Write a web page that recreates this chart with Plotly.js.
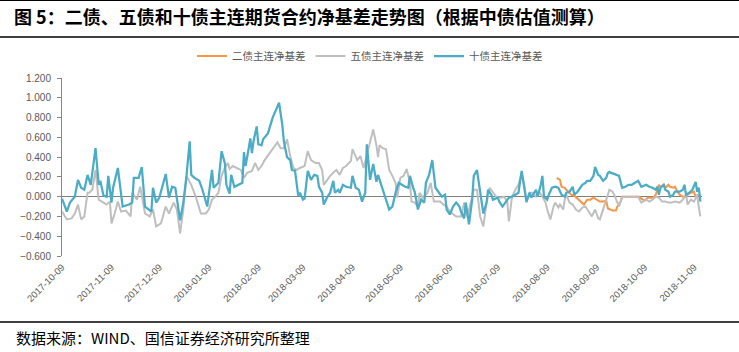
<!DOCTYPE html>
<html>
<head>
<meta charset="utf-8">
<script src="https://cdn.plot.ly/plotly-3.0.1.min.js"></script>
<style>html,body{margin:0;padding:0;background:#fff;}#chart{width:739px;height:352px;}</style>
</head>
<body>
<div id="chart"></div>
<script>
var titleText = '图 5：二债、五债和十债主连期货合约净基差走势图（根据中债估值测算）';
var sourceText = '数据来源：WIND、国信证券经济研究所整理';
var seriesNames = ['二债主连净基差', '五债主连净基差', '十债主连净基差'];

var tickDates = ['2017-10-09','2017-11-09','2017-12-09','2018-01-09','2018-02-09','2018-03-09','2018-04-09','2018-05-09','2018-06-09','2018-07-09','2018-08-09','2018-09-09','2018-10-09','2018-11-09'];
var tickLabels = ['2017-10-09','2017-11-09','2017-12-09','2018-01-09','2018-02-09','2018-03-09','2018-04-09','2018-05-09','2018-06-09','2018-07-09','2018-08-09','2018-09-09','2018-10-09','2018-11-09'];
var yTicks = [-0.6,-0.4,-0.2,0,0.2,0.4,0.6,0.8,1.0,1.2];

// 二债主连净基差
var dates2 = ['2018-08-15','2018-08-17','2018-08-18','2018-08-20','2018-08-21','2018-08-23','2018-08-24','2018-08-26','2018-08-28','2018-08-30',
'2018-09-01','2018-09-03','2018-09-05','2018-09-07','2018-09-09','2018-09-11','2018-09-13','2018-09-15','2018-09-16','2018-09-19',
'2018-09-21','2018-09-22','2018-09-24','2018-09-25','2018-09-28','2018-10-02','2018-10-06','2018-10-07','2018-10-09','2018-10-11',
'2018-10-14','2018-10-15','2018-10-16','2018-10-18','2018-10-19','2018-10-21','2018-10-22','2018-10-24','2018-10-25','2018-10-27',
'2018-10-28','2018-10-29','2018-10-31','2018-11-02','2018-11-03','2018-11-05','2018-11-07','2018-11-09','2018-11-10','2018-11-12'];
var values2 = [0.19,0.17,0.10,0.09,0.07,0.04,0.02,0.01,-0.02,-0.06,
-0.08,-0.03,-0.03,-0.01,-0.03,-0.05,-0.05,-0.04,-0.12,-0.14,
-0.14,-0.10,-0.05,0.00,0.00,0.00,0.00,-0.02,-0.04,-0.01,
-0.01,0.00,0.02,0.12,0.10,0.12,0.09,0.12,0.10,0.09,
0.10,0.07,0.02,0.00,0.00,0.02,0.04,0.05,0.00,0.02];

// 五债主连净基差
var dates5 = ['2017-10-09','2017-10-12','2017-10-15','2017-10-17','2017-10-19','2017-10-21','2017-10-23','2017-10-25','2017-10-26','2017-10-28',
'2017-10-30','2017-11-01','2017-11-04','2017-11-06','2017-11-08','2017-11-09','2017-11-11','2017-11-13','2017-11-15','2017-11-18',
'2017-11-21','2017-11-22','2017-11-25','2017-11-27','2017-11-30','2017-12-03','2017-12-05','2017-12-07','2017-12-10','2017-12-13',
'2017-12-15','2017-12-18','2017-12-20','2017-12-22','2017-12-24','2017-12-26','2017-12-29','2018-01-01','2018-01-04','2018-01-07',
'2018-01-09','2018-01-11','2018-01-13','2018-01-15','2018-01-17','2018-01-19','2018-01-21','2018-01-22','2018-01-24','2018-01-27',
'2018-01-29','2018-01-31','2018-02-02','2018-02-05','2018-02-07','2018-02-09','2018-02-11','2018-02-13','2018-02-15','2018-02-17',
'2018-02-21','2018-02-23','2018-02-25','2018-02-27','2018-03-01','2018-03-03','2018-03-05','2018-03-07','2018-03-10','2018-03-12',
'2018-03-14','2018-03-17','2018-03-19','2018-03-21','2018-03-22','2018-03-24','2018-03-26','2018-03-29','2018-03-30','2018-04-01',
'2018-04-03','2018-04-05','2018-04-08','2018-04-09','2018-04-12','2018-04-14','2018-04-16','2018-04-18','2018-04-20','2018-04-22',
'2018-04-24','2018-04-25','2018-04-26','2018-04-28','2018-04-30','2018-05-02','2018-05-04','2018-05-06','2018-05-07','2018-05-09',
'2018-05-11','2018-05-13','2018-05-15','2018-05-16','2018-05-18','2018-05-20','2018-05-21','2018-05-23','2018-05-26','2018-05-28',
'2018-05-30','2018-06-01','2018-06-03','2018-06-05','2018-06-07','2018-06-09','2018-06-11','2018-06-13','2018-06-16','2018-06-18',
'2018-06-20','2018-06-22','2018-06-24','2018-06-26','2018-06-28','2018-06-30','2018-07-02','2018-07-04','2018-07-06','2018-07-08',
'2018-07-11','2018-07-13','2018-07-15','2018-07-16','2018-07-18','2018-07-20','2018-07-22','2018-07-24','2018-07-26','2018-07-27',
'2018-07-29','2018-07-31','2018-08-02','2018-08-04','2018-08-06','2018-08-08','2018-08-09','2018-08-11','2018-08-13','2018-08-14',
'2018-08-16','2018-08-17','2018-08-19','2018-08-20','2018-08-21','2018-08-23','2018-08-25','2018-08-27','2018-08-29','2018-08-31',
'2018-09-02','2018-09-04','2018-09-06','2018-09-08','2018-09-10','2018-09-11','2018-09-13','2018-09-15','2018-09-17','2018-09-19',
'2018-09-20','2018-09-22','2018-09-23','2018-09-25','2018-09-27','2018-09-30','2018-10-03','2018-10-05','2018-10-07','2018-10-10',
'2018-10-12','2018-10-14','2018-10-16','2018-10-18','2018-10-20','2018-10-22','2018-10-24','2018-10-26','2018-10-28','2018-10-31',
'2018-11-02','2018-11-04','2018-11-05','2018-11-07','2018-11-09','2018-11-11','2018-11-12','2018-11-13'];
var values5 = [-0.15,-0.23,-0.22,-0.17,-0.08,-0.23,-0.20,0.04,0.04,0.07,
0.27,-0.03,-0.06,-0.08,-0.05,-0.27,-0.17,-0.05,-0.15,-0.14,
-0.20,0.04,-0.03,0.10,-0.17,-0.20,-0.13,-0.30,-0.27,-0.10,
-0.17,-0.06,-0.13,-0.37,-0.13,0.21,0.12,-0.01,-0.17,-0.17,
-0.13,-0.03,0.00,0.04,0.21,0.29,0.34,0.28,0.31,0.29,
0.27,0.19,0.24,0.26,0.34,0.27,0.31,0.37,0.41,0.46,
0.55,0.49,0.49,0.58,0.41,0.29,0.27,0.29,0.31,0.46,
0.37,0.34,0.34,0.27,0.12,0.17,0.21,0.26,0.27,0.22,
0.29,0.31,0.36,0.48,0.37,0.41,0.29,0.42,0.55,0.68,
0.52,0.40,0.52,0.49,0.48,0.27,0.21,0.14,-0.01,0.19,
0.21,0.28,0.14,-0.05,-0.06,-0.10,0.04,-0.01,0.04,0.14,
-0.05,-0.05,-0.05,-0.08,-0.10,-0.15,-0.18,-0.20,-0.20,-0.06,
-0.20,-0.05,0.07,0.07,-0.20,-0.30,-0.06,0.09,0.04,0.00,
-0.01,0.00,-0.05,-0.25,0.00,0.07,0.12,0.24,0.09,-0.06,
0.04,0.04,0.00,0.05,0.00,-0.06,-0.13,-0.23,-0.10,-0.06,
-0.11,-0.08,-0.13,-0.03,0.02,-0.06,-0.08,-0.13,-0.15,-0.11,
-0.10,-0.15,-0.20,-0.13,-0.22,-0.23,-0.13,-0.03,0.07,0.05,
0.02,-0.06,-0.10,0.00,0.00,0.00,0.00,0.00,-0.06,-0.03,
-0.05,-0.03,0.00,-0.01,-0.05,-0.05,-0.06,-0.06,-0.05,-0.06,
-0.03,0.02,-0.08,-0.03,-0.05,0.02,-0.11,-0.20];

// 十债主连净基差
var dates10 = ['2017-10-09','2017-10-12','2017-10-14','2017-10-17','2017-10-19','2017-10-21','2017-10-23','2017-10-25','2017-10-27','2017-10-30',
'2017-11-01','2017-11-02','2017-11-04','2017-11-06','2017-11-07','2017-11-09','2017-11-10','2017-11-13','2017-11-16','2017-11-20',
'2017-11-22','2017-11-23','2017-11-26','2017-11-28','2017-11-30','2017-12-02','2017-12-04','2017-12-05','2017-12-07','2017-12-09',
'2017-12-13','2017-12-15','2017-12-17','2017-12-19','2017-12-22','2017-12-24','2017-12-26','2017-12-28','2017-12-29','2017-12-31',
'2018-01-03','2018-01-05','2018-01-08','2018-01-11','2018-01-12','2018-01-15','2018-01-17','2018-01-19','2018-01-20','2018-01-22',
'2018-01-23','2018-01-25','2018-01-28','2018-01-30','2018-01-31','2018-02-01','2018-02-03','2018-02-04','2018-02-05','2018-02-06',
'2018-02-08','2018-02-09','2018-02-11','2018-02-12','2018-02-15','2018-02-16','2018-02-18','2018-02-22','2018-02-24','2018-02-25',
'2018-02-27','2018-03-01','2018-03-02','2018-03-04','2018-03-06','2018-03-07','2018-03-09','2018-03-10','2018-03-12','2018-03-14',
'2018-03-16','2018-03-18','2018-03-19','2018-03-21','2018-03-22','2018-03-24','2018-03-26','2018-03-28','2018-03-29','2018-03-31',
'2018-04-01','2018-04-03','2018-04-05','2018-04-08','2018-04-09','2018-04-11','2018-04-13','2018-04-15','2018-04-17','2018-04-18',
'2018-04-20','2018-04-22','2018-04-24','2018-04-25','2018-04-27','2018-04-29','2018-05-02','2018-05-04','2018-05-06','2018-05-08',
'2018-05-10','2018-05-12','2018-05-14','2018-05-15','2018-05-17','2018-05-18','2018-05-20','2018-05-22','2018-05-24','2018-05-25',
'2018-05-27','2018-05-29','2018-05-31','2018-06-02','2018-06-04','2018-06-06','2018-06-07','2018-06-09','2018-06-11','2018-06-13',
'2018-06-15','2018-06-16','2018-06-18','2018-06-19','2018-06-21','2018-06-23','2018-06-24','2018-06-26','2018-06-27','2018-06-29',
'2018-06-30','2018-07-02','2018-07-03','2018-07-05','2018-07-06','2018-07-09','2018-07-10','2018-07-12','2018-07-14','2018-07-16',
'2018-07-18','2018-07-20','2018-07-22','2018-07-24','2018-07-26','2018-07-27','2018-07-29','2018-07-30','2018-08-02','2018-08-03',
'2018-08-05','2018-08-06','2018-08-07','2018-08-09','2018-08-10','2018-08-12','2018-08-14','2018-08-16','2018-08-18','2018-08-20',
'2018-08-21','2018-08-23','2018-08-25','2018-08-26','2018-08-28','2018-08-30','2018-08-31','2018-09-02','2018-09-03','2018-09-05',
'2018-09-07','2018-09-08','2018-09-10','2018-09-11','2018-09-13','2018-09-15','2018-09-16','2018-09-17','2018-09-18','2018-09-20',
'2018-09-22','2018-09-23','2018-09-25','2018-09-27','2018-09-29','2018-10-01','2018-10-03','2018-10-05','2018-10-07','2018-10-10',
'2018-10-12','2018-10-14','2018-10-16','2018-10-17','2018-10-18','2018-10-19','2018-10-21','2018-10-22','2018-10-24','2018-10-25',
'2018-10-27','2018-10-28','2018-10-31','2018-11-02','2018-11-03','2018-11-04','2018-11-06','2018-11-08','2018-11-10','2018-11-11',
'2018-11-12','2018-11-13'];
var values10 = [-0.02,-0.15,-0.06,0.00,0.17,0.09,0.07,0.22,0.12,0.49,
0.12,0.16,0.01,0.00,0.21,-0.06,0.09,0.29,-0.10,-0.08,
-0.06,0.19,0.19,0.30,-0.10,-0.13,-0.15,0.09,-0.06,-0.01,
0.23,-0.01,0.10,0.09,-0.24,-0.06,0.21,0.56,0.22,0.19,
0.16,0.07,-0.10,0.27,0.09,0.14,0.46,0.34,0.12,0.03,
0.22,0.10,0.12,0.14,0.45,0.31,0.49,0.59,0.44,0.56,
0.71,0.53,0.52,0.58,0.64,0.69,0.80,0.95,0.73,0.56,
0.40,0.37,0.27,0.26,0.01,0.04,-0.03,-0.02,0.26,0.17,
0.22,0.21,0.10,0.04,-0.08,-0.01,0.04,0.16,0.04,0.07,
0.04,0.12,0.10,0.09,0.21,0.09,0.07,-0.05,0.04,0.53,
0.17,0.33,0.15,0.22,0.12,0.00,-0.13,-0.10,0.04,0.14,
0.12,0.10,0.09,0.21,0.09,0.05,-0.13,-0.03,-0.06,0.14,
0.22,0.37,0.09,0.05,0.00,0.02,-0.13,-0.18,-0.10,-0.06,
-0.10,-0.15,-0.22,-0.06,-0.28,-0.03,0.21,0.27,0.17,-0.03,
-0.17,-0.06,0.07,0.02,-0.03,-0.01,-0.05,-0.10,-0.06,-0.01,
0.00,0.02,0.04,0.26,0.07,-0.05,0.04,-0.01,0.07,0.00,
0.12,0.21,0.00,-0.03,0.02,0.09,0.10,0.09,0.02,0.00,
0.04,0.05,0.10,0.02,0.05,0.09,0.12,0.14,0.16,0.16,
0.21,0.30,0.22,0.21,0.16,0.19,0.24,0.25,0.24,0.23,
0.22,0.21,0.09,0.10,0.12,0.12,0.14,0.16,0.10,0.12,
0.10,0.09,0.07,0.10,0.02,0.09,0.12,0.07,0.05,0.00,
0.02,0.05,0.05,0.07,0.12,0.02,0.04,0.07,0.15,0.05,
0.09,-0.05];

var colors = ['#F79646', '#BFBFBF', '#4BACC6'];

var traces = [
  {x: dates2, y: values2, name: seriesNames[0], type: 'scatter', mode: 'lines', line: {color: colors[0], width: 2}},
  {x: dates5, y: values5, name: seriesNames[1], type: 'scatter', mode: 'lines', line: {color: colors[1], width: 2}},
  {x: dates10, y: values10, name: seriesNames[2], type: 'scatter', mode: 'lines', line: {color: colors[2], width: 2.25}}
];

var pxW = 640, pxH = 178, ml = 62, mt = 78;
function px2x(p) { return (p - ml) / pxW; }
function px2y(p) { return (mt + pxH - p) / pxH; }

var layout = {
  width: 739, height: 352,
  margin: {l: ml, r: 739 - ml - pxW, t: mt, b: 352 - mt - pxH},
  paper_bgcolor: '#ffffff', plot_bgcolor: '#ffffff',
  title: {text: titleText, xref: 'container', yref: 'container', x: 14/739, xanchor: 'left', y: 1 - 18/352, yanchor: 'middle',
          font: {family: '"Noto Sans CJK SC", sans-serif', size: 18, color: '#000000', weight: 'bold'}},
  showlegend: true,
  legend: {orientation: 'h', xref: 'container', yref: 'container', x: 370/739, xanchor: 'center', y: 1 - 56/352, yanchor: 'middle',
           font: {family: '"Noto Sans CJK SC", sans-serif', size: 10.5, color: '#595959'}, itemwidth: 30, traceorder: 'normal'},
  xaxis: {type: 'date', range: ['2017-10-09', '2018-11-14'], tickmode: 'array', tickvals: tickDates, ticktext: tickLabels,
          tickangle: -45, showgrid: false, showline: false, zeroline: false, ticks: '', ticklabelstandoff: 3,
          tickfont: {family: '"Liberation Sans", Arial, sans-serif', size: 9.5, color: '#595959'}},
  yaxis: {range: [-0.6, 1.2], tickmode: 'array', tickvals: yTicks, tickformat: '.3f', showgrid: false,
          showline: true, linecolor: '#868686', linewidth: 1, ticks: 'outside', ticklen: 4, tickcolor: '#868686',
          zeroline: true, zerolinecolor: '#7f7f7f', zerolinewidth: 1, ticklabelstandoff: 4,
          tickfont: {family: '"Liberation Sans", Arial, sans-serif', size: 10, color: '#595959'}},
  shapes: [
    {type: 'line', xref: 'paper', yref: 'paper', x0: px2x(0), x1: px2x(739), y0: px2y(0.5), y1: px2y(0.5), line: {color: '#000000', width: 1}},
    {type: 'line', xref: 'paper', yref: 'paper', x0: px2x(0), x1: px2x(739), y0: px2y(37), y1: px2y(37), line: {color: '#000000', width: 1.5}},
    {type: 'line', xref: 'paper', yref: 'paper', x0: px2x(0), x1: px2x(739), y0: px2y(322), y1: px2y(322), line: {color: '#000000', width: 1.5}}
  ],
  annotations: [
    {text: sourceText, xref: 'paper', yref: 'paper', x: px2x(14), y: px2y(337), xanchor: 'left', yanchor: 'middle', showarrow: false,
     font: {family: '"Noto Sans CJK SC", sans-serif', size: 15, color: '#000000'}}
  ]
};

Plotly.newPlot('chart', traces, layout, {staticPlot: true, displayModeBar: false});
</script>
</body>
</html>
